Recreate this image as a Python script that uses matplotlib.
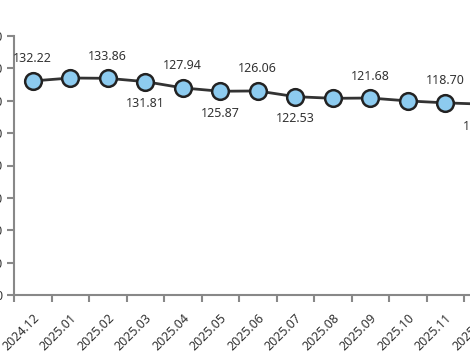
import numpy as np
import matplotlib.pyplot as plt

months = ['2024.12', '2025.01', '2025.02', '2025.03', '2025.04', '2025.05', '2025.06',
          '2025.07', '2025.08', '2025.09', '2025.10', '2025.11', '2025.12']
values = [132.22, 134.05, 133.86, 131.81, 127.94, 125.87, 126.06,
          122.53, 121.50, 121.68, 119.90, 118.70, 117.90]
# where each value label sits ('' = hidden)
label_pos = ['up', '', 'up', 'down', 'up', 'down', 'up',
             'down', '', 'up', '', 'up', 'down']
yticks = [0, 20, 40, 60, 80, 100, 120, 140, 160]

plt.rcParams['font.family'] = ['Noto Sans', 'DejaVu Sans']
W, H = 470, 353
fig = plt.figure(figsize=(W / 100, H / 100), dpi=100)
band = 37.5
n = len(months)
ax = fig.add_axes([14 / W, (H - 295) / H, n * band / W, (295 - 36) / H])

x = np.arange(n)
ax.plot(x, values, color='#333333', lw=2, zorder=2, clip_on=False)
ax.plot(x, values, 'o', ms=12, mfc='#8DCBEF', mec='#222222', mew=1.8, zorder=3, clip_on=False)

for xi, v, p in zip(x, values, label_pos):
    if not p:
        continue
    off = 22 if p == 'up' else -22
    ax.annotate(f'{v:.2f}', (xi, v), xytext=(0, off), textcoords='offset pixels',
                ha='center', va='center', fontsize=9, color='#333333')

ax.set_xlim(-0.5, n - 0.5)
ax.set_ylim(0, 160)
ax.set_yticks(yticks)
ax.set_yticklabels([str(t) for t in yticks])
ax.set_xticks(np.arange(n + 1) - 0.5)
ax.set_xticklabels([])
ax.set_xticks(x, minor=True)
ax.set_xticklabels(months, minor=True, rotation=45, ha='right', rotation_mode='anchor')
ax.tick_params(axis='x', which='minor', length=0, pad=12, labelsize=9, labelcolor='#333333')
ax.tick_params(axis='x', which='major', length=5, color='#888888', width=1.5)
ax.tick_params(axis='y', length=5, color='#888888', width=1.5, pad=3, labelsize=9,
               labelcolor='#333333')

for s in ['top', 'right']:
    ax.spines[s].set_visible(False)
for s in ['left', 'bottom']:
    ax.spines[s].set_color('#888888')
    ax.spines[s].set_linewidth(1.5)

fig.savefig('out.png', dpi=100)
